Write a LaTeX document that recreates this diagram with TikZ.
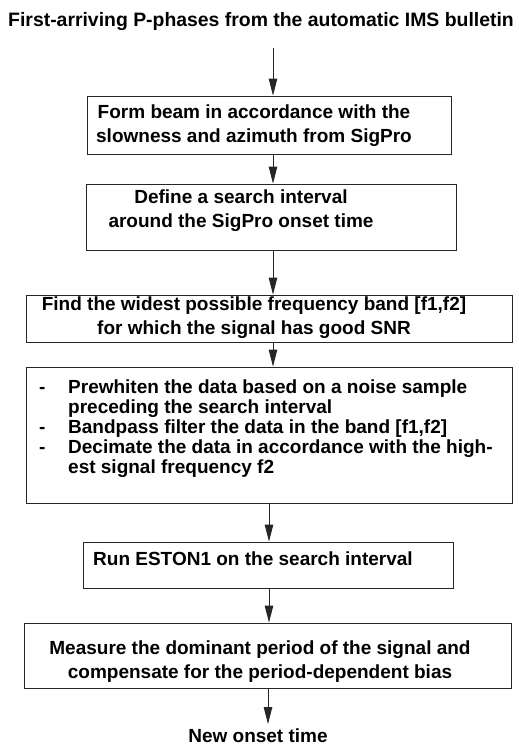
\documentclass[tikz,border=0pt]{standalone}
\usepackage{fontspec}
\setmainfont{Liberation Sans}
\usetikzlibrary{arrows.meta}

\begin{document}
\begin{tikzpicture}[x=1pt, y=-1pt,
  box/.style={draw=black!85, line width=0.9pt, fill=white, inner sep=0pt},
  txt/.style={inner sep=0pt, align=center, anchor=base,
              font=\fontsize{19}{24}\selectfont\bfseries},
  arr/.style={draw=black!85, line width=0.9pt,
              -{Triangle[length=17pt, width=8.5pt]}}]

  % page frame
  \useasboundingbox (0,0) rectangle (519,745);

  % heading
  \node[txt, font=\fontsize{19.4}{24}\selectfont\bfseries] (title) at (261,26)
    {First-arriving P-phases from the automatic IMS bulletin};

  % process boxes
  \node[box, minimum width=364pt, minimum height=58pt] (b1) at (269,125) {};
  \node[box, minimum width=370pt, minimum height=66pt] (b2) at (271,217) {};
  \node[box, minimum width=486pt, minimum height=47pt] (b3) at (269,318.5) {};
  \node[box, minimum width=486pt, minimum height=136pt] (b4) at (269,435) {};
  \node[box, minimum width=370pt, minimum height=46pt] (b5) at (268,565) {};
  \node[box, minimum width=487pt, minimum height=65pt] (b6) at (267.5,655.5) {};

  % box texts (anchored at the baseline of the last line)
  \node[txt] (t1) at (254,142)
    {Form beam in accordance with the\\slowness and azimuth from SigPro};
  \node[txt] (t2) at (241,227)
    {Define a search interval\\around the SigPro onset time};
  \node[txt] (t3) at (254,334)
    {Find the widest possible frequency band [f1,f2]\\for which the signal has good SNR};
  \node[txt, align=left, anchor=base west,
        font=\fontsize{19}{20}\selectfont\bfseries] (t4) at (39,473)
    {\makebox[29pt][l]{-}Prewhiten the data based on a noise sample\\
     \hspace*{29pt}preceding the search interval\\
     \makebox[29pt][l]{-}Bandpass filter the data in the band [f1,f2]\\
     \makebox[29pt][l]{-}Decimate the data in accordance with the high-\\
     \hspace*{29pt}est signal frequency f2};
  \node[txt, anchor=base west] (t5) at (93,565)
    {Run ESTON1 on the search interval};
  \node[txt] (t6) at (260,678)
    {Measure the dominant period of the signal and\\compensate for the period-dependent bias};

  % result
  \node[txt] (res) at (258,742) {New onset time};

  % flow arrows
  \draw[arr] ([xshift=12pt,yshift=-18pt]title.south) -- ([xshift=4pt]b1.north);
  \draw[arr] ([xshift=4pt]b1.south) -- ([xshift=2pt]b2.north);
  \draw[arr] ([xshift=2pt]b2.south) -- ([xshift=4pt]b3.north);
  \draw[arr] ([xshift=4pt]b3.south) -- ([xshift=4pt]b4.north);
  \draw[arr] (b4.south) -- ([xshift=1pt]b5.north);
  \draw[arr] ([xshift=1pt]b5.south) -- ([xshift=1.5pt]b6.north);
  \draw[arr] ([xshift=0.5pt]b6.south) -- ([xshift=10pt,yshift=4pt]res.north);
\end{tikzpicture}
\end{document}
